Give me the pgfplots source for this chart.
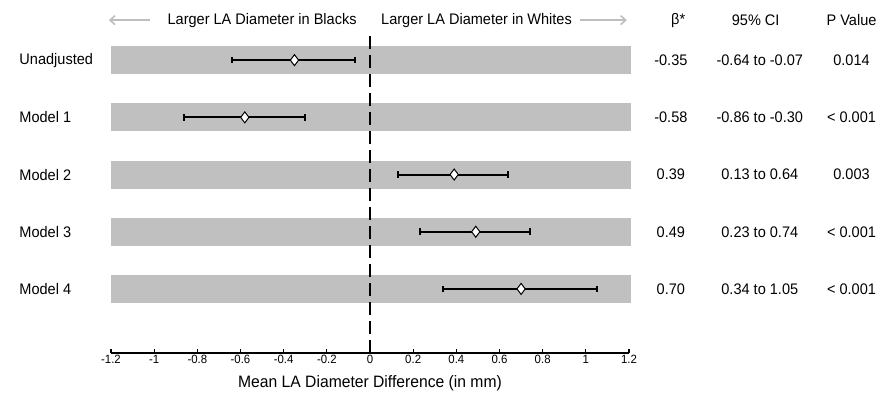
\documentclass[border=0pt]{standalone}
\usepackage{fontspec}
\setmainfont{Liberation Sans}[FakeStretch=0.95]
\usepackage{pgfplots}
\pgfplotsset{compat=1.18}
\usetikzlibrary{arrows.meta}
\definecolor{bargray}{RGB}{192,192,192}
\definecolor{arrowgray}{RGB}{190,190,190}

\begin{document}
\begin{tikzpicture}
\useasboundingbox (0,0) rectangle (883pt,400pt);
\begin{axis}[
  at={(111pt,47pt)}, anchor=south west,
  scale only axis,
  width=518pt, height=318pt,
  xmin=-1.2, xmax=1.2,
  ymin=-0.12, ymax=5.44,
  axis x line=bottom,
  axis y line=none,
  axis line style={line width=1.4pt, -},
  xtick={-1.2,-1,...,1.2},
  xticklabels={-1.2,-1,-0.8,-0.6,-0.4,-0.2,0,0.2,0.4,0.6,0.8,1,1.2},
  tick align=inside,
  major tick length=4pt,
  tick style={line width=1.2pt, black},
  xticklabel style={font=\fontsize{12}{13}\selectfont, yshift=1pt},
  /pgf/number format/assume math mode=true,
  xlabel={Mean LA Diameter Difference (in mm)},
  xlabel style={font=\fontsize{16.5}{18}\selectfont, yshift=-5pt},
  clip=false,
]
% grey row bands
\addplot[line width=28pt, bargray] coordinates {(-1.2,5) (1.21,5)};
\addplot[line width=28pt, bargray] coordinates {(-1.2,4) (1.21,4)};
\addplot[line width=28pt, bargray] coordinates {(-1.2,3) (1.21,3)};
\addplot[line width=28pt, bargray] coordinates {(-1.2,2) (1.21,2)};
\addplot[line width=28pt, bargray] coordinates {(-1.2,1) (1.21,1)};
% zero line
\addplot[black, line width=2.4pt, dash pattern=on 13pt off 6pt] coordinates {(0,-0.12) (0,5.44)};
% estimates with 95% CI
\addplot[draw=none, mark=diamond*, mark size=5.5pt,
  mark options={fill=white, draw=black, line width=1pt},
  error bars/.cd, x dir=both, x explicit,
  error bar style={line width=2pt, black},
  error mark options={rotate=90, mark size=3.3pt, line width=2pt}]
  coordinates {
  (-0.35,5) += (0.28,0) -= (0.29,0)
  (-0.58,4) += (0.28,0) -= (0.28,0)
  (0.39,3) += (0.25,0) -= (0.26,0)
  (0.49,2) += (0.25,0) -= (0.26,0)
  (0.70,1) += (0.35,0) -= (0.36,0)
};
% header
\begin{scope}[font=\fontsize{15.3}{17}\selectfont]
\node[anchor=east, inner sep=0pt] at (axis cs:-0.061,5.70) {Larger LA Diameter in Blacks};
\node[anchor=west, inner sep=0pt] at (axis cs:0.051,5.70) {Larger LA Diameter in Whites};
\draw[arrowgray, line width=1.6pt, -{Straight Barb[length=5pt,width=9pt]}] (axis cs:-1.02,5.70) -- (axis cs:-1.21,5.70);
\draw[arrowgray, line width=1.6pt, -{Straight Barb[length=5pt,width=9pt]}] (axis cs:0.975,5.70) -- (axis cs:1.19,5.70);
\node at (axis cs:1.428,5.70) {β*};
\node at (axis cs:1.787,5.70) {95\% CI};
\node at (axis cs:2.231,5.70) {P Value};
% row labels
\node[anchor=west, inner sep=0pt] at (axis cs:-1.625,5) {Unadjusted};
\node[anchor=west, inner sep=0pt] at (axis cs:-1.625,4) {Model 1};
\node[anchor=west, inner sep=0pt] at (axis cs:-1.625,3) {Model 2};
\node[anchor=west, inner sep=0pt] at (axis cs:-1.625,2) {Model 3};
\node[anchor=west, inner sep=0pt] at (axis cs:-1.625,1) {Model 4};
% values
\node at (axis cs:1.394,5) {-0.35};
\node at (axis cs:1.394,4) {-0.58};
\node at (axis cs:1.394,3) {0.39};
\node at (axis cs:1.394,2) {0.49};
\node at (axis cs:1.394,1) {0.70};
\node at (axis cs:1.806,5) {-0.64 to -0.07};
\node at (axis cs:1.806,4) {-0.86 to -0.30};
\node at (axis cs:1.806,3) {0.13 to 0.64};
\node at (axis cs:1.806,2) {0.23 to 0.74};
\node at (axis cs:1.806,1) {0.34 to 1.05};
\node at (axis cs:2.231,5) {0.014};
\node at (axis cs:2.231,4) {< 0.001};
\node at (axis cs:2.231,3) {0.003};
\node at (axis cs:2.231,2) {< 0.001};
\node at (axis cs:2.231,1) {< 0.001};
\end{scope}
\end{axis}
\end{tikzpicture}
\end{document}
